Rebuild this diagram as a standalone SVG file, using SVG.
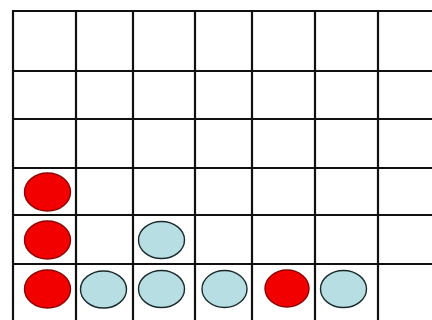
<svg xmlns="http://www.w3.org/2000/svg" width="432" height="320" viewBox="0 0 432 320">
<style>
.grid line{stroke:#111;stroke-width:2.2}
.red{fill:#f20000;stroke:#8a0000;stroke-width:1.4}
.blue{fill:#b7dfe3;stroke:#1a2a2a;stroke-width:1.4}
</style>
<rect x="0" y="0" width="432" height="320" fill="#fff"/>
<g class="grid" id="grid">
<line x1="12" y1="11" x2="432" y2="11"/>
<line x1="12" y1="71" x2="432" y2="71"/>
<line x1="12" y1="119" x2="432" y2="119"/>
<line x1="12" y1="168" x2="432" y2="168"/>
<line x1="12" y1="215" x2="432" y2="215"/>
<line x1="12" y1="264" x2="432" y2="264"/>
<line x1="13" y1="10" x2="13" y2="320"/>
<line x1="76" y1="10" x2="76" y2="320"/>
<line x1="133" y1="10" x2="133" y2="320"/>
<line x1="195" y1="10" x2="195" y2="320"/>
<line x1="252" y1="10" x2="252" y2="320"/>
<line x1="315" y1="10" x2="315" y2="320"/>
<line x1="378" y1="10" x2="378" y2="320"/>
</g>
<g id="r1"><ellipse class="red" cx="47.5" cy="192" rx="23" ry="19"/></g>
<g id="r2"><ellipse class="red" cx="47.5" cy="240" rx="23" ry="19"/></g>
<g id="r3"><ellipse class="red" cx="47.5" cy="289" rx="23" ry="19"/></g>
<g id="b1"><ellipse class="blue" cx="103.5" cy="289.5" rx="23" ry="18.5"/></g>
<g id="b2"><ellipse class="blue" cx="161.5" cy="240" rx="23" ry="18.5"/></g>
<g id="b3"><ellipse class="blue" cx="161.5" cy="289" rx="23" ry="18.5"/></g>
<g id="b4"><ellipse class="blue" cx="224.5" cy="289" rx="22.5" ry="18.5"/></g>
<g id="r4"><ellipse class="red" cx="287" cy="288.5" rx="22" ry="18.5"/></g>
<g id="b5"><ellipse class="blue" cx="343.5" cy="289" rx="23" ry="18.5"/></g>
</svg>
